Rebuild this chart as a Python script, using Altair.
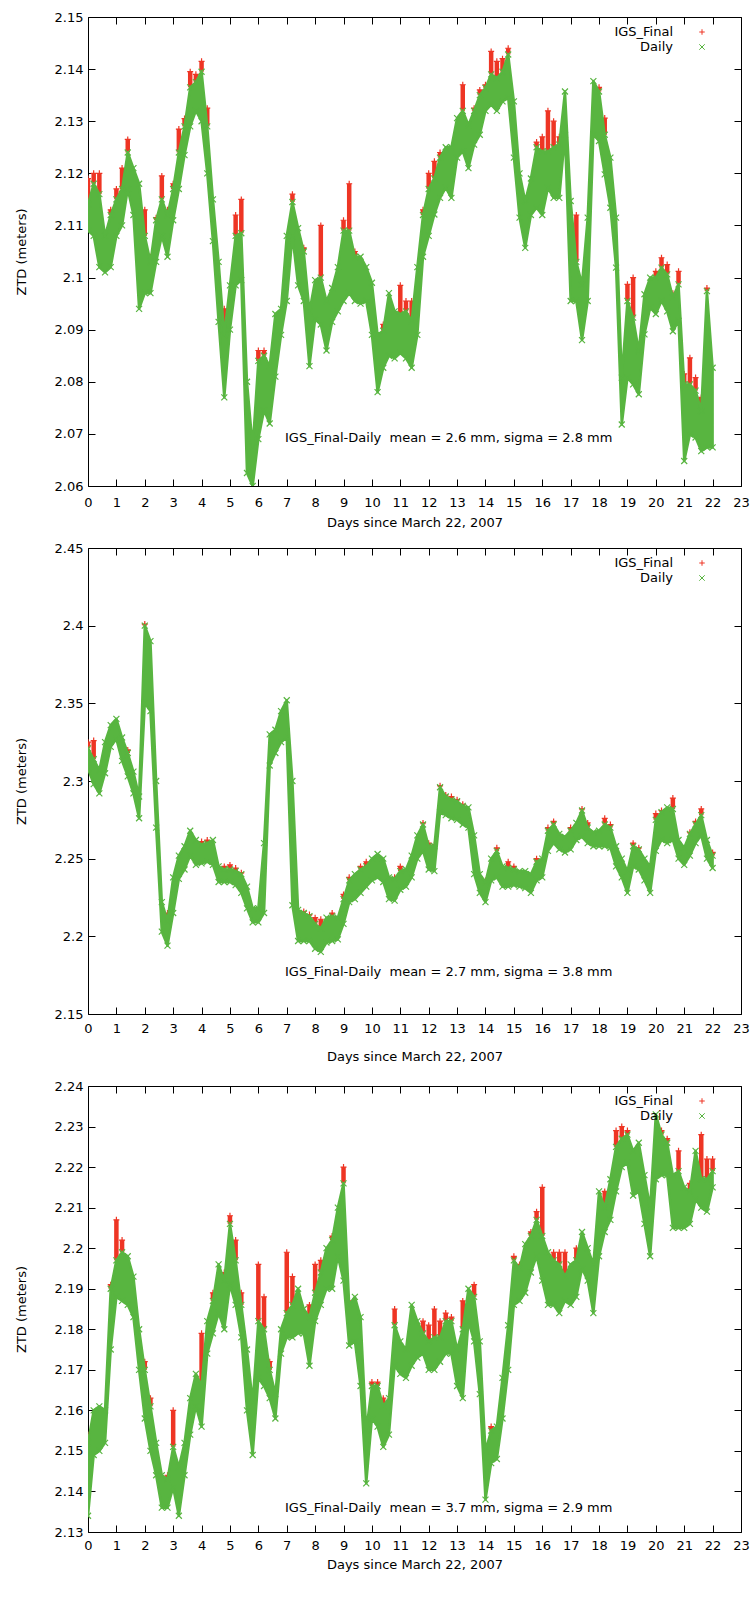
import altair as alt
import pandas as pd

FONT = "DejaVu Sans"
RED = "#ee3524"
GREEN = "#58b540"
PLUS = "M-1,0L1,0M0,-1L0,1"
CROSS = "M-1,-1L1,1M-1,1L1,-1"
STEP = 0.2  # days between samples
X_TITLE = "Days since March 22, 2007"
Y_TITLE = "ZTD (meters)"
SERIES = ["IGS_Final", "Daily"]
DAY_TICKS = list(range(24))
WIDTH = 653

# ---- station 1: Daily band (low / high) and IGS_Final upper envelope, metres ----
P1_LO = [
    2.109, 2.108, 2.102, 2.101, 2.102, 2.108, 2.110, 2.117, 2.112, 2.094,
    2.097, 2.097, 2.103, 2.108, 2.104, 2.111, 2.117, 2.1235, 2.129, 2.132,
    2.130, 2.120, 2.107, 2.0915, 2.077, 2.090, 2.0985, 2.0995, 2.0625, 2.060,
    2.069, 2.0745, 2.072, 2.081, 2.089, 2.0955, 2.108, 2.0985, 2.0955, 2.083,
    2.092, 2.091, 2.086, 2.0915, 2.0935, 2.0955, 2.097, 2.0955, 2.095, 2.0955,
    2.089, 2.078, 2.0827, 2.085, 2.0845, 2.0855, 2.0845, 2.0827, 2.089, 2.104,
    2.108, 2.1121, 2.1153, 2.1172, 2.1153, 2.123, 2.1242, 2.121, 2.1255, 2.1274,
    2.132, 2.1332, 2.132, 2.1338, 2.1345, 2.123, 2.1115, 2.1057, 2.112, 2.1134,
    2.112, 2.1172, 2.1153, 2.1153, 2.1274, 2.0955, 2.0955, 2.088, 2.0955, 2.1274,
    2.1262, 2.1198, 2.1134, 2.1019, 2.0718, 2.0808, 2.0795, 2.0776, 2.0891, 2.0942,
    2.093, 2.0955, 2.0935, 2.0897, 2.0917, 2.0648, 2.0699, 2.0693, 2.0667, 2.0674,
    2.0674,
]
P1_HI = [
    2.114, 2.118, 2.116, 2.108, 2.112, 2.115, 2.117, 2.124, 2.121, 2.118,
    2.108, 2.103, 2.111, 2.115, 2.112, 2.117, 2.124, 2.129, 2.1365, 2.1375,
    2.1395, 2.129, 2.115, 2.103, 2.089, 2.0985, 2.108, 2.1085, 2.080, 2.0675,
    2.084, 2.085, 2.083, 2.093, 2.094, 2.108, 2.1145, 2.1095, 2.105, 2.0935,
    2.0995, 2.100, 2.0955, 2.098, 2.102, 2.109, 2.109, 2.104, 2.104, 2.102,
    2.099, 2.089, 2.0898, 2.097, 2.0935, 2.093, 2.0935, 2.0917, 2.102, 2.112,
    2.117, 2.119, 2.123, 2.125, 2.125, 2.1306, 2.132, 2.1293, 2.132, 2.135,
    2.1364, 2.139, 2.1383, 2.1395, 2.1428, 2.1338, 2.120, 2.1147, 2.119, 2.125,
    2.1242, 2.1242, 2.125, 2.1255, 2.1357, 2.1147, 2.103, 2.0987, 2.1115, 2.1377,
    2.1357, 2.1274, 2.123, 2.1115, 2.0808, 2.0955, 2.0923, 2.0859, 2.0968, 2.100,
    2.100, 2.1019, 2.1006, 2.0962, 2.0987, 2.0795, 2.0795, 2.0783, 2.0744, 2.0974,
    2.0827,
]
P1_RED = [
    2.119, 2.120, 2.120, 2.108, 2.113, 2.117, 2.121, 2.1265, 2.121, 2.118,
    2.113, 2.104, 2.1115, 2.1195, 2.113, 2.118, 2.1285, 2.1305, 2.1395, 2.139,
    2.1415, 2.1325, 2.115, 2.103, 2.094, 2.0985, 2.112, 2.115, 2.080, 2.069,
    2.086, 2.086, 2.083, 2.093, 2.094, 2.108, 2.116, 2.1095, 2.1057, 2.0935,
    2.0995, 2.110, 2.0955, 2.098, 2.102, 2.111, 2.118, 2.105, 2.104, 2.102,
    2.099, 2.089, 2.091, 2.097, 2.0935, 2.0985, 2.0955, 2.0955, 2.102, 2.113,
    2.120, 2.1223, 2.124, 2.125, 2.125, 2.131, 2.137, 2.1295, 2.1325, 2.136,
    2.137, 2.1434, 2.1415, 2.142, 2.144, 2.134, 2.120, 2.115, 2.119, 2.126,
    2.127, 2.132, 2.130, 2.127, 2.136, 2.115, 2.112, 2.099, 2.1115, 2.138,
    2.1365, 2.1306, 2.123, 2.1115, 2.081, 2.0987, 2.100, 2.086, 2.097, 2.100,
    2.1012, 2.1038, 2.1025, 2.097, 2.1012, 2.0815, 2.0846, 2.0808, 2.077, 2.098,
    2.083,
]

# ---- station 2 ----
P2_LO = [
    2.308, 2.298, 2.292, 2.305, 2.322, 2.327, 2.313, 2.303, 2.292, 2.276,
    2.350, 2.345, 2.270, 2.203, 2.194, 2.215, 2.237, 2.243, 2.252, 2.246,
    2.247, 2.248, 2.246, 2.235, 2.235, 2.235, 2.233, 2.228, 2.218, 2.209,
    2.209, 2.215, 2.310, 2.318, 2.325, 2.328, 2.220, 2.197, 2.197, 2.197,
    2.192, 2.190, 2.196, 2.197, 2.198, 2.208, 2.222, 2.224, 2.228, 2.232,
    2.236, 2.238, 2.235, 2.224, 2.223, 2.230, 2.232, 2.238, 2.250, 2.255,
    2.243, 2.242, 2.280, 2.278, 2.276, 2.275, 2.272, 2.270, 2.240, 2.228,
    2.222, 2.236, 2.238, 2.232, 2.232, 2.233, 2.232, 2.231, 2.228, 2.236,
    2.238, 2.255, 2.260, 2.256, 2.254, 2.256, 2.262, 2.264, 2.260, 2.258,
    2.258, 2.258, 2.257, 2.245, 2.238, 2.228, 2.245, 2.243, 2.236, 2.228,
    2.255, 2.262, 2.260, 2.262, 2.250, 2.246, 2.252, 2.260, 2.265, 2.250,
    2.244,
]
P2_HI = [
    2.321, 2.314, 2.307, 2.325, 2.336, 2.340, 2.328, 2.318, 2.306, 2.290,
    2.400, 2.390, 2.300, 2.222, 2.210, 2.238, 2.252, 2.258, 2.268, 2.262,
    2.259, 2.260, 2.262, 2.245, 2.243, 2.243, 2.242, 2.240, 2.232, 2.218,
    2.218, 2.260, 2.330, 2.333, 2.345, 2.352, 2.300, 2.217, 2.215, 2.213,
    2.208, 2.205, 2.212, 2.213, 2.212, 2.224, 2.236, 2.240, 2.243, 2.245,
    2.250, 2.253, 2.250, 2.238, 2.237, 2.242, 2.243, 2.252, 2.265, 2.272,
    2.258, 2.258, 2.296, 2.290, 2.288, 2.287, 2.284, 2.283, 2.265, 2.240,
    2.235, 2.250, 2.255, 2.245, 2.244, 2.243, 2.242, 2.242, 2.240, 2.248,
    2.250, 2.268, 2.272, 2.266, 2.264, 2.268, 2.273, 2.281, 2.270, 2.267,
    2.268, 2.272, 2.270, 2.258, 2.250, 2.242, 2.258, 2.256, 2.250, 2.245,
    2.275, 2.280, 2.283, 2.282, 2.262, 2.257, 2.266, 2.272, 2.278, 2.262,
    2.252,
]
P2_RED = [
    2.325, 2.326, 2.307, 2.325, 2.336, 2.340, 2.328, 2.320, 2.306, 2.290,
    2.401, 2.390, 2.300, 2.222, 2.215, 2.238, 2.252, 2.258, 2.268, 2.262,
    2.261, 2.262, 2.262, 2.245, 2.245, 2.246, 2.244, 2.241, 2.232, 2.218,
    2.218, 2.260, 2.330, 2.333, 2.345, 2.352, 2.300, 2.217, 2.216, 2.214,
    2.212, 2.211, 2.212, 2.215, 2.212, 2.227, 2.238, 2.240, 2.245, 2.248,
    2.250, 2.253, 2.250, 2.238, 2.238, 2.245, 2.243, 2.252, 2.265, 2.273,
    2.260, 2.259, 2.297, 2.291, 2.290, 2.288, 2.285, 2.283, 2.265, 2.240,
    2.236, 2.250, 2.257, 2.245, 2.248, 2.245, 2.242, 2.242, 2.240, 2.250,
    2.250, 2.270, 2.274, 2.266, 2.264, 2.270, 2.273, 2.282, 2.273, 2.267,
    2.268, 2.276, 2.272, 2.258, 2.250, 2.242, 2.260, 2.257, 2.250, 2.245,
    2.279, 2.281, 2.283, 2.289, 2.262, 2.257, 2.267, 2.274, 2.282, 2.262,
    2.254,
]

# ---- station 3 ----
P3_LO = [
    2.134, 2.149, 2.150, 2.152, 2.175, 2.188, 2.187, 2.186, 2.183, 2.170,
    2.158, 2.150, 2.144, 2.136, 2.136, 2.141, 2.134, 2.144, 2.154, 2.161,
    2.156, 2.174, 2.179, 2.184, 2.180, 2.191, 2.186, 2.178, 2.160, 2.149,
    2.168, 2.166, 2.163, 2.158, 2.174, 2.178, 2.178, 2.179, 2.179, 2.171,
    2.182, 2.186, 2.190, 2.190, 2.198, 2.192, 2.176, 2.177, 2.166, 2.142,
    2.158, 2.156, 2.151, 2.154, 2.171, 2.169, 2.168, 2.171, 2.173, 2.174,
    2.170, 2.170, 2.172, 2.174, 2.174, 2.166, 2.163, 2.182, 2.177, 2.164,
    2.138, 2.147, 2.148, 2.158, 2.170, 2.186, 2.187, 2.189, 2.194, 2.198,
    2.192, 2.186, 2.186, 2.184, 2.187, 2.186, 2.188, 2.195, 2.192, 2.184,
    2.198, 2.204, 2.207, 2.214, 2.220, 2.221, 2.213, 2.214, 2.206, 2.198,
    2.217, 2.218, 2.218, 2.205, 2.205, 2.205, 2.206, 2.212, 2.210, 2.209,
    2.215,
]
P3_HI = [
    2.152, 2.160, 2.161, 2.160, 2.190, 2.197, 2.199, 2.198, 2.193, 2.180,
    2.170, 2.161, 2.152, 2.144, 2.143, 2.151, 2.146, 2.152, 2.163, 2.169,
    2.166, 2.182, 2.187, 2.196, 2.192, 2.206, 2.197, 2.186, 2.175, 2.162,
    2.182, 2.180, 2.170, 2.164, 2.180, 2.184, 2.186, 2.190, 2.185, 2.183,
    2.189, 2.194, 2.200, 2.202, 2.210, 2.216, 2.186, 2.188, 2.183, 2.155,
    2.166, 2.166, 2.161, 2.163, 2.181, 2.177, 2.175, 2.186, 2.182, 2.179,
    2.177, 2.178, 2.178, 2.182, 2.182, 2.175, 2.180, 2.190, 2.188, 2.177,
    2.150, 2.155, 2.156, 2.168, 2.181, 2.197, 2.195, 2.201, 2.203, 2.207,
    2.203, 2.199, 2.197, 2.196, 2.193, 2.196, 2.197, 2.204, 2.200, 2.196,
    2.214, 2.210, 2.217, 2.225, 2.227, 2.228, 2.224, 2.226, 2.218, 2.210,
    2.233, 2.228, 2.226, 2.218, 2.219, 2.215, 2.214, 2.224, 2.217, 2.217,
    2.219,
]
P3_RED = [
    2.154, 2.160, 2.161, 2.160, 2.191, 2.207, 2.202, 2.198, 2.193, 2.180,
    2.172, 2.163, 2.152, 2.144, 2.144, 2.160, 2.146, 2.152, 2.163, 2.169,
    2.179, 2.182, 2.189, 2.196, 2.194, 2.208, 2.202, 2.189, 2.175, 2.162,
    2.196, 2.188, 2.172, 2.164, 2.180, 2.199, 2.193, 2.190, 2.185, 2.186,
    2.196, 2.197, 2.200, 2.203, 2.210, 2.220, 2.187, 2.188, 2.183, 2.156,
    2.167, 2.167, 2.163, 2.163, 2.185, 2.177, 2.175, 2.186, 2.182, 2.182,
    2.181, 2.185, 2.182, 2.184, 2.183, 2.175, 2.187, 2.190, 2.191, 2.177,
    2.150, 2.156, 2.156, 2.168, 2.181, 2.198, 2.196, 2.201, 2.204, 2.209,
    2.215, 2.199, 2.199, 2.199, 2.199, 2.196, 2.200, 2.204, 2.200, 2.196,
    2.214, 2.214, 2.217, 2.229, 2.230, 2.229, 2.224, 2.226, 2.218, 2.210,
    2.233, 2.229, 2.227, 2.218, 2.224, 2.215, 2.216, 2.224, 2.228, 2.222,
    2.222,
]

P1_TICKS = [2.06, 2.07, 2.08, 2.09, 2.1, 2.11, 2.12, 2.13, 2.14, 2.15]
P2_TICKS = [2.15, 2.2, 2.25, 2.3, 2.35, 2.4, 2.45]
P3_TICKS = [2.13, 2.14, 2.15, 2.16, 2.17, 2.18, 2.19, 2.2, 2.21, 2.22, 2.23, 2.24]

NOTES = [
    "IGS_Final-Daily\u00a0 mean = 2.6 mm, sigma = 2.8 mm",
    "IGS_Final-Daily\u00a0 mean = 2.7 mm, sigma = 3.8 mm",
    "IGS_Final-Daily\u00a0 mean = 3.7 mm, sigma = 2.9 mm",
]


def tick_axis(orient, offset, values):
    """Ticks only, pushed across the plot so they point inward (gnuplot style)."""
    return alt.Axis(orient=orient, offset=offset, values=values, labels=False,
                    domain=False, grid=False, ticks=True, tickSize=7,
                    tickColor="#000", tickWidth=1, title=None)


def make_panel(lo, hi, red, y_domain, y_ticks, height, note, note_y,
               label_pad, title_pad):
    n = min(len(lo), len(hi), len(red))
    df = pd.DataFrame({
        "day": [round(i * STEP, 1) for i in range(n)],
        "lo": lo[:n], "hi": hi[:n], "red": red[:n],
    })
    xs = alt.Scale(domain=[0, 23], nice=False, zero=False)
    ys = alt.Scale(domain=y_domain, nice=False, zero=False)
    base = alt.Chart(df)
    above = base.transform_filter("datum.red > datum.hi + 0.0004")

    x_main = alt.Axis(values=DAY_TICKS, ticks=False, tickSize=0, domain=False,
                      grid=False, labelPadding=label_pad, titlePadding=title_pad,
                      title=X_TITLE, format="d", labelFlush=False,
                      labelOverlap=False)
    y_main = alt.Axis(values=y_ticks, ticks=False, tickSize=0, domain=False,
                      grid=False, labelPadding=5, titlePadding=26,
                      title=Y_TITLE, format="~g", labelOverlap=False)

    # IGS_Final: streaks of + markers wherever it rises above the Daily band
    red_rules = above.mark_rule(color=RED, strokeWidth=4.5, clip=True).encode(
        x=alt.X("day:Q", scale=xs, axis=x_main),
        y=alt.Y("red:Q", scale=ys, axis=y_main),
        y2="hi:Q",
    )
    red_pts = above.mark_point(
        shape=PLUS, size=36, filled=False, strokeWidth=1.2, color=RED,
        opacity=1, clip=True,
    ).encode(
        x=alt.X("day:Q", scale=xs, axis=None),
        y=alt.Y("red:Q", scale=ys, axis=tick_axis("right", -WIDTH, y_ticks)),
    )

    # Daily: band between low and high, with x markers along both edges
    green_area = base.mark_area(
        color=GREEN, stroke=GREEN, strokeWidth=2.5, strokeJoin="round",
        interpolate="linear", clip=True,
    ).encode(
        x=alt.X("day:Q", scale=xs, axis=tick_axis("top", -height, DAY_TICKS)),
        y=alt.Y("hi:Q", scale=ys, axis=None),
        y2="lo:Q",
    )
    green_pts = base.transform_fold(["lo", "hi"], as_=["edge", "ztd"]).mark_point(
        shape=CROSS, size=36, filled=False, strokeWidth=1.2, color=GREEN,
        opacity=1, clip=True,
    ).encode(
        x=alt.X("day:Q", scale=xs, axis=tick_axis("bottom", -height, DAY_TICKS)),
        y=alt.Y("ztd:Q", scale=ys, axis=tick_axis("left", -WIDTH, y_ticks)),
    )

    note_layer = alt.Chart(pd.DataFrame({"txt": [note]})).mark_text(
        align="left", baseline="middle", font=FONT, fontSize=13, color="#000",
    ).encode(text="txt:N", x=alt.value(197), y=alt.value(note_y))

    legend_layers = []
    for i, (name, color, shape) in enumerate(zip(SERIES, [RED, GREEN], [PLUS, CROSS])):
        lab = pd.DataFrame({"name": [name]})
        legend_layers.append(
            alt.Chart(lab).mark_text(align="right", baseline="middle", font=FONT,
                                     fontSize=13, color="#000")
            .encode(text="name:N", x=alt.value(585), y=alt.value(15 + 15 * i))
        )
        legend_layers.append(
            alt.Chart(lab).mark_point(shape=shape, size=30, filled=False,
                                      strokeWidth=1, color=color, opacity=1)
            .encode(x=alt.value(614), y=alt.value(15 + 15 * i))
        )

    return alt.layer(
        red_rules, red_pts, green_area, green_pts, note_layer, *legend_layers
    ).resolve_axis(x="independent", y="independent").properties(
        width=WIDTH, height=height
    )


p1 = make_panel(P1_LO, P1_HI, P1_RED, [2.06, 2.15], P1_TICKS, 469, NOTES[0], 421, 10, 7)
p2 = make_panel(P2_LO, P2_HI, P2_RED, [2.15, 2.45], P2_TICKS, 466, NOTES[1], 424, 8.5, 15)
p3 = make_panel(P3_LO, P3_HI, P3_RED, [2.13, 2.24], P3_TICKS, 446, NOTES[2], 422, 7.5, 6)

chart = alt.vconcat(alt.vconcat(p1, p2, spacing=11), p3, spacing=15).properties(
    padding={"left": 14, "top": 10, "right": 2, "bottom": 5},
    background="white",
).configure_axis(
    labelFont=FONT, labelFontSize=13, labelColor="#000",
    titleFont=FONT, titleFontSize=13, titleFontWeight="normal", titleColor="#000",
).configure_view(stroke="#000", strokeWidth=1)

chart.save("out.html", embed_options={"renderer": "svg", "actions": False})
